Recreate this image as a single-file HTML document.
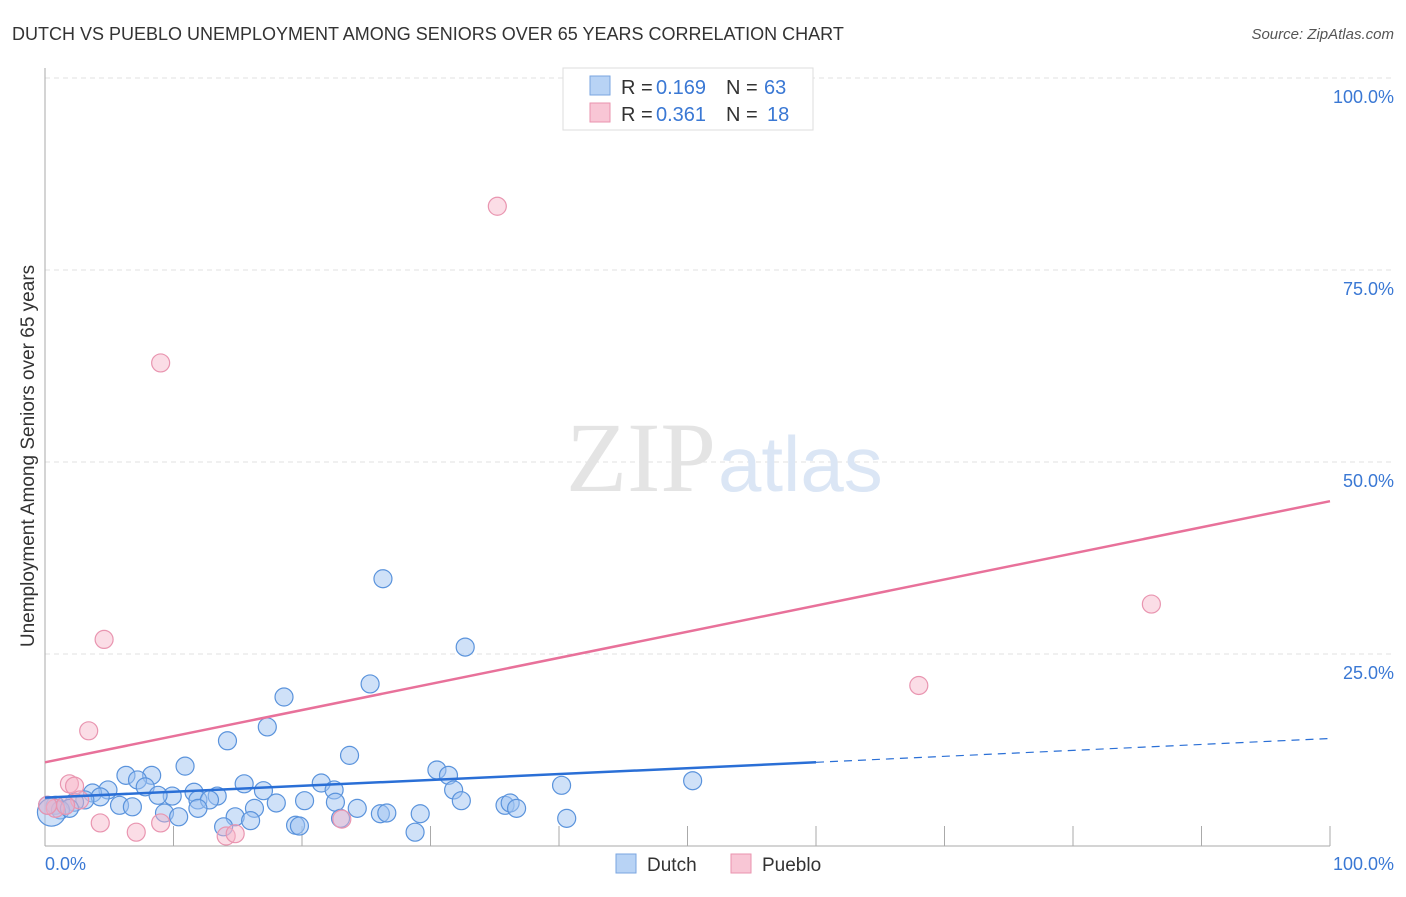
<!DOCTYPE html>
<html><head><meta charset="utf-8"><style>
body{margin:0;background:#fff;font-family:"Liberation Sans",sans-serif}
svg text{font-family:"Liberation Sans",sans-serif}
</style></head><body>
<svg width="1406" height="892">
<text x="12" y="40" font-size="18" fill="#333">DUTCH VS PUEBLO UNEMPLOYMENT AMONG SENIORS OVER 65 YEARS CORRELATION CHART</text>
<text x="1394" y="39" font-size="15" fill="#555" font-style="italic" text-anchor="end">Source: ZipAtlas.com</text>
<g id="grid"></g>
<text x="716" y="491" font-size="100" fill="#e4e4e4" text-anchor="end" style="font-family:'Liberation Serif',serif">ZIP</text>
<text x="718" y="491" font-size="78" fill="#dbe6f5">atlas</text>
<line x1="45" y1="68" x2="45" y2="846" stroke="#aaa"/>
<line x1="45" y1="846" x2="1330" y2="846" stroke="#aaa"/>
<g id="ticks"></g>
<text x="34" y="456" font-size="19" fill="#333" text-anchor="middle" transform="rotate(-90 34 456)">Unemployment Among Seniors over 65 years</text>
<text x="45" y="870" font-size="18" fill="#3a78d4">0.0%</text>
<text x="1394" y="870" font-size="18" fill="#3a78d4" text-anchor="end">100.0%</text>
<g id="pts"></g>
<g id="lines"></g>
<g>
<rect x="563" y="68" width="250" height="62" fill="#fff" stroke="#ddd"/>
<rect x="590" y="76" width="20" height="19" fill="#b8d3f5" stroke="#7aa6e0"/>
<text x="621" y="94" font-size="20" fill="#333">R =</text>
<text x="656" y="94" font-size="20" fill="#3a78d4">0.169</text>
<text x="726" y="94" font-size="20" fill="#333">N =</text>
<text x="764" y="94" font-size="20" fill="#3a78d4">63</text>
<rect x="590" y="103" width="20" height="19" fill="#f8c6d5" stroke="#ea93ae"/>
<text x="621" y="121" font-size="20" fill="#333">R =</text>
<text x="656" y="121" font-size="20" fill="#3a78d4">0.361</text>
<text x="726" y="121" font-size="20" fill="#333">N =</text>
<text x="767" y="121" font-size="20" fill="#3a78d4">18</text>
</g>
<g>
<rect x="616" y="854" width="20" height="19" fill="#b8d3f5" stroke="#7aa6e0"/>
<text x="647" y="871" font-size="19" fill="#333">Dutch</text>
<rect x="731" y="854" width="20" height="19" fill="#f8c6d5" stroke="#ea93ae"/>
<text x="762" y="871" font-size="19" fill="#333">Pueblo</text>
</g>
</svg>
<script>
const yTicks=[25,50,75,100];
const yTickLabels=["25.0%","50.0%","75.0%","100.0%"];
const xTicks=[10,20,30,40,50,60,70,80,90,100];
const dutchX=[26.3,32.7,25.3,18.6,17.3,14.2,23.7,10.9,6.3,8.3,7.2,4.9,3.7,7.8,9.9,8.8,11.6,13.4,15.5,17.0,21.5,22.5,30.5,31.4,31.8,32.4,40.2,50.4,4.3,5.8,6.8,3.1,2.3,1.6,0.8,0.2,1.2,11.9,12.8,11.9,16.3,18.0,20.2,22.6,24.3,26.1,26.6,29.2,35.8,36.2,36.7,40.6,9.3,10.4,14.8,16.0,13.9,19.5,19.8,28.8,0.5,1.9,23.0];
const dutchY=[34.8,25.9,21.1,19.4,15.5,13.7,11.8,10.4,9.2,9.2,8.6,7.3,6.9,7.7,6.5,6.6,7.0,6.5,8.1,7.2,8.2,7.3,9.9,9.2,7.3,5.9,7.9,8.5,6.4,5.3,5.1,6.0,5.7,5.3,5.3,5.3,4.7,6.0,6.0,4.9,4.9,5.6,5.9,5.7,4.9,4.2,4.3,4.2,5.3,5.6,4.9,3.6,4.3,3.8,3.8,3.3,2.5,2.7,2.6,1.8,4.4,4.9,3.6];
const puebloX=[35.2,9.0,4.6,86.1,68.0,3.4,1.9,2.3,2.7,4.3,7.1,9.0,14.1,14.8,23.1,0.8,1.6,0.2];
const puebloY=[83.3,62.9,26.9,31.5,20.9,15.0,8.1,7.8,6.0,3.0,1.8,3.0,1.3,1.6,3.5,4.9,5.3,5.3];
const dutchTrend=[6.3,10.9,14.0];
const puebloTrend=[10.9,44.9];
const X=v=>45+v*12.85, Y=v=>846-v*7.68;
const NS="http://www.w3.org/2000/svg";
function mk(t,a,p){const e=document.createElementNS(NS,t);for(const k in a)e.setAttribute(k,a[k]);p.appendChild(e);return e;}
const grid=document.getElementById('grid');
yTicks.forEach((v,i)=>{
 const l=mk('line',{x1:45,x2:1394,y1:Y(v),y2:Y(v),stroke:'#e2e2e2','stroke-dasharray':'5,4'},grid);
 
 
 const t=mk('text',{x:1394,y:Y(v)+25,'font-size':18,fill:'#3a78d4','text-anchor':'end'},grid);
 t.textContent=yTickLabels[i];
 
 
});
const ticks=document.getElementById('ticks');
xTicks.forEach(v=>{
 const l=mk('line',{x1:X(v),x2:X(v),y1:826,y2:846,stroke:'#aaa'},ticks);
 
 
});
const pts=document.getElementById('pts');
dutchX.forEach((v,i)=>{
 const c=mk('circle',{cx:X(v),cy:Y(dutchY[i]),r:i==60?14:9,fill:'rgba(160,196,242,0.5)',stroke:'#5a93dc','stroke-width':1.2},pts);
 
 
});
puebloX.forEach((v,i)=>{
 const c=mk('circle',{cx:X(v),cy:Y(puebloY[i]),r:9,fill:'rgba(246,180,200,0.45)',stroke:'#e995b0','stroke-width':1.2},pts);
 
 
});
const lines=document.getElementById('lines');
let l=mk('line',{x1:X(0),y1:Y(dutchTrend[0]),x2:X(60),y2:Y(dutchTrend[1]),stroke:'#2a6fd6','stroke-width':2.5},lines);


l=mk('line',{x1:X(60),y1:Y(dutchTrend[1]),x2:X(100),y2:Y(dutchTrend[2]),stroke:'#2a6fd6','stroke-width':1.2,'stroke-dasharray':'8,6'},lines);


l=mk('line',{x1:X(0),y1:Y(puebloTrend[0]),x2:X(100),y2:Y(puebloTrend[1]),stroke:'#e8719a','stroke-width':2.5},lines);


</script>
</body></html>
